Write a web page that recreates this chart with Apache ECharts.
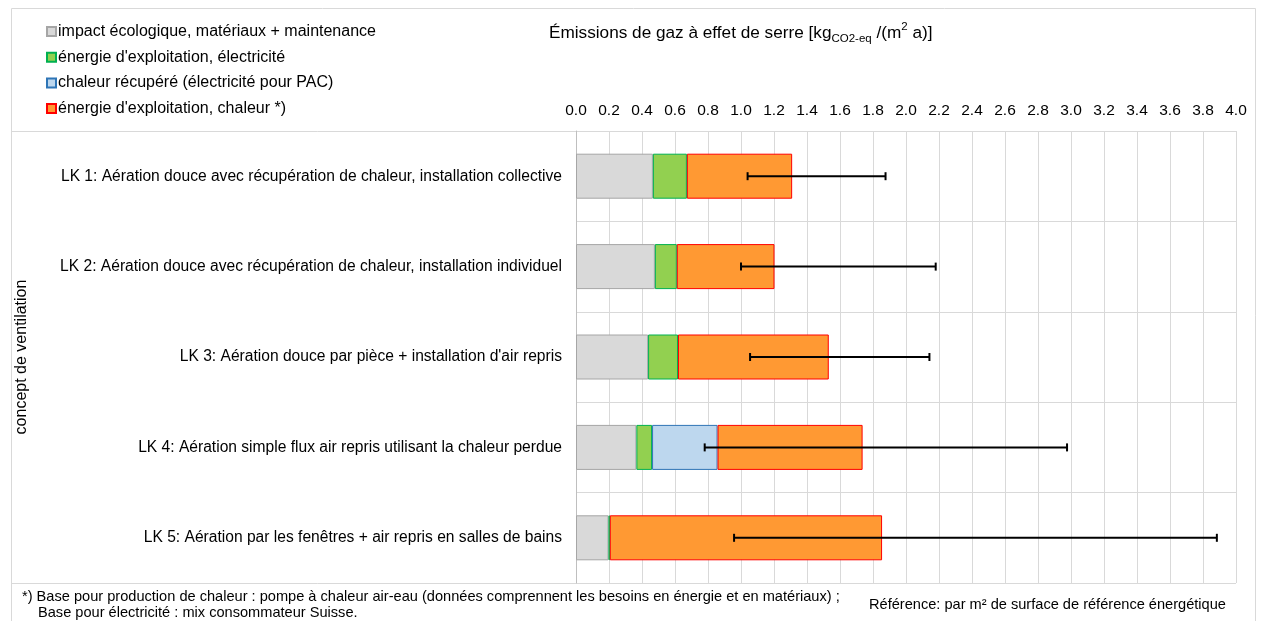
<!DOCTYPE html>
<html>
<head>
<meta charset="utf-8">
<script src="https://cdn.jsdelivr.net/npm/echarts@6/dist/echarts.min.js"></script>
<style>
  html, body { margin: 0; padding: 0; background: #fff; }
  #chart { width: 1262px; height: 621px; }
</style>
</head>
<body>
<div id="chart"></div>
<script>
// Ventilation concepts (one bar each)
const categories = [
  'LK 1: Aération douce avec récupération de chaleur, installation collective',
  'LK 2: Aération douce avec récupération de chaleur, installation individuel',
  "LK 3: Aération douce par pièce + installation d'air repris",
  'LK 4: Aération simple flux air repris utilisant la chaleur perdue',
  'LK 5: Aération par les fenêtres + air repris en salles de bains'
];

const seriesNames = [
  'impact écologique, matériaux + maintenance',
  "énergie d'exploitation, électricité",
  'chaleur récupéré (électricité pour PAC)',
  "énergie d'exploitation, chaleur *)"
];

// kg CO2-eq per m² and year
const materials   = [0.466, 0.478, 0.437, 0.366, 0.197];
const electricity = [0.206, 0.133, 0.181, 0.095, 0.008];
const heatRecov   = ['-', '-', '-', 0.397, '-'];
const heating     = [0.638, 0.592, 0.914, 0.879, 1.650];

// spread of the total (error bars)
const errLow  = [1.040, 1.000, 1.055, 0.780, 0.958];
const errHigh = [1.876, 2.180, 2.142, 2.976, 3.884];

// axis range
const xMin = 0, xMax = 4, xStep = 0.2;

const fills   = ['#d9d9d9', '#92d050', '#bdd7ee', '#ff9933'];
const borders = ['#a6a6a6', '#00b050', '#2e75b6', '#ff0000'];
const values  = [materials, electricity, heatRecov, heating];

const FONT = '"Liberation Sans", Arial, sans-serif';
const chart = echarts.init(document.getElementById('chart'), null, { renderer: 'canvas' });

const barSeries = seriesNames.map((name, i) => ({
  name,
  type: 'bar',
  stack: 'total',
  barWidth: 45,
  data: values[i],
  itemStyle: { color: fills[i], borderColor: borders[i], borderWidth: 1 },
  emphasis: { disabled: true },
  z: 2
}));

const errorSeries = {
  type: 'custom',
  name: 'err',
  z: 10,
  encode: { x: [1, 2], y: 0 },
  data: categories.map((c, i) => [i, errLow[i], errHigh[i]]),
  renderItem: function (params, api) {
    const idx = api.value(0);
    const p1 = api.coord([api.value(1), idx]);
    const p2 = api.coord([api.value(2), idx]);
    const style = { stroke: '#000', lineWidth: 2 };
    const cap = 4;
    return {
      type: 'group',
      children: [
        { type: 'line', shape: { x1: p1[0], y1: p1[1], x2: p2[0], y2: p2[1] }, style },
        { type: 'line', shape: { x1: p1[0], y1: p1[1] - cap, x2: p1[0], y2: p1[1] + cap }, style },
        { type: 'line', shape: { x1: p2[0], y1: p2[1] - cap, x2: p2[0], y2: p2[1] + cap }, style }
      ]
    };
  }
};

const option = {
  animation: false,
  textStyle: { fontFamily: FONT },
  grid: { left: 576, right: 26, top: 131, bottom: 38, containLabel: false },
  legend: {
    data: seriesNames,
    orient: 'vertical',
    left: 46,
    top: 22.5,
    padding: 0,
    itemWidth: 9,
    itemHeight: 9,
    itemGap: 7.7,
    icon: 'rect',
    selectedMode: false,
    textStyle: { fontFamily: FONT, fontSize: 16, color: '#000', lineHeight: 18, padding: [0, 0, 0, -3] }
  },
  xAxis: {
    type: 'value',
    position: 'top',
    min: xMin,
    max: xMax,
    interval: xStep,
    axisLine: { show: false },
    axisTick: { show: false },
    axisLabel: {
      margin: 12,
      fontSize: 15.5,
      color: '#000',
      fontFamily: FONT,
      formatter: v => v.toFixed(1)
    },
    splitLine: { show: true, lineStyle: { color: '#d9d9d9', width: 1 } }
  },
  yAxis: {
    type: 'category',
    inverse: true,
    data: categories,
    axisLine: { show: true, lineStyle: { color: '#bfbfbf', width: 1 } },
    axisTick: { show: false },
    axisLabel: { margin: 14, fontSize: 15.6, color: '#000', fontFamily: FONT },
    splitLine: { show: true, lineStyle: { color: '#d9d9d9', width: 1 } }
  },
  series: [...barSeries, errorSeries],
  graphic: [
    // outer frame
    { type: 'rect', shape: { x: 11.5, y: 8.5, width: 1244, height: 630 },
      style: { fill: 'none', stroke: '#d9d9d9', lineWidth: 1 }, silent: true, z: 0 },
    // separators above and below the plot
    { type: 'line', shape: { x1: 11, y1: 131.5, x2: 1236, y2: 131.5 },
      style: { stroke: '#d9d9d9', lineWidth: 1 }, silent: true },
    { type: 'line', shape: { x1: 11, y1: 583.5, x2: 1236, y2: 583.5 },
      style: { stroke: '#d9d9d9', lineWidth: 1 }, silent: true },
    // axis title
    {
      type: 'text', left: 549, top: 21, silent: true,
      style: {
        text: 'Émissions de gaz à effet de serre [kg{sub|CO2-eq} /(m{sup|2} a)]',
        font: '17.2px ' + FONT,
        fill: '#000',
        lineHeight: 24,
        rich: {
          sub: { fontSize: 11.5, fontFamily: FONT, verticalAlign: 'bottom', lineHeight: 13, fill: '#000' },
          sup: { fontSize: 11.5, fontFamily: FONT, verticalAlign: 'top', lineHeight: 16, fill: '#000' }
        }
      }
    },
    // category axis name
    {
      type: 'text', x: 22, y: 357, rotation: Math.PI / 2, silent: true,
      style: { text: 'concept de ventilation', font: '16px ' + FONT, fill: '#000',
               align: 'center', verticalAlign: 'middle' }
    },
    // footnotes
    {
      type: 'text', x: 22, y: 597, silent: true,
      style: { text: '*) Base pour production de chaleur : pompe à chaleur air-eau (données comprennent les besoins en énergie et en matériaux) ;',
               font: '14.6px ' + FONT, fill: '#000', verticalAlign: 'middle' }
    },
    {
      type: 'text', x: 38, y: 613, silent: true,
      style: { text: 'Base pour électricité : mix consommateur Suisse.',
               font: '14.6px ' + FONT, fill: '#000', verticalAlign: 'middle' }
    },
    {
      type: 'text', x: 869, y: 605, silent: true,
      style: { text: 'Référence: par m² de surface de référence énergétique',
               font: '14.6px ' + FONT, fill: '#000', verticalAlign: 'middle' }
    }
  ]
};

chart.setOption(option);
</script>
</body>
</html>
